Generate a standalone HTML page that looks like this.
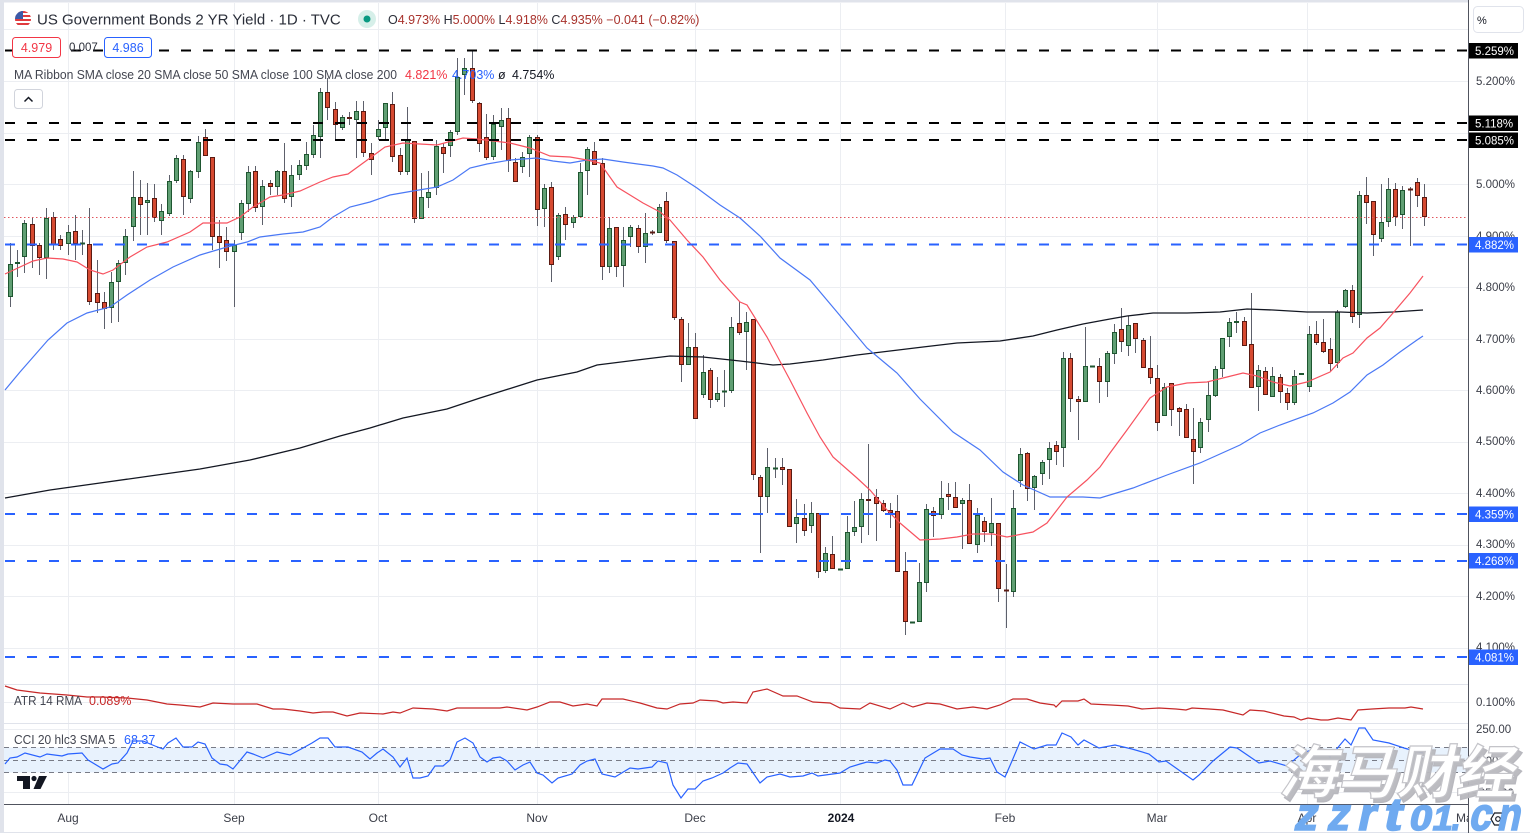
<!DOCTYPE html>
<html><head><meta charset="utf-8"><style>
html,body{margin:0;padding:0;width:1530px;height:833px;overflow:hidden;background:#fff}
svg{display:block}
text{font-family:"Liberation Sans","Noto Sans CJK SC",sans-serif}
</style></head><body>
<svg id="s" width="1530" height="833" viewBox="0 0 1530 833" xmlns="http://www.w3.org/2000/svg">
<rect width="1530" height="833" fill="#fff"/>
<!-- frame -->
<rect x="0" y="0" width="4" height="833" fill="#e0e3eb"/>
<rect x="0" y="0" width="1530" height="2.5" fill="#e0e3eb"/>
<rect x="0" y="832" width="1530" height="1" fill="#e0e3eb"/>
<!-- grid -->
<g stroke="#eceef2" stroke-width="1">
<line x1="4" x2="1468" y1="29.5" y2="29.5"/><line x1="4" x2="1468" y1="81.5" y2="81.5"/>
<line x1="4" x2="1468" y1="133.5" y2="133.5"/><line x1="4" x2="1468" y1="184.5" y2="184.5"/>
<line x1="4" x2="1468" y1="236.5" y2="236.5"/><line x1="4" x2="1468" y1="287.5" y2="287.5"/>
<line x1="4" x2="1468" y1="339.5" y2="339.5"/><line x1="4" x2="1468" y1="390.5" y2="390.5"/>
<line x1="4" x2="1468" y1="442.5" y2="442.5"/><line x1="4" x2="1468" y1="493.5" y2="493.5"/>
<line x1="4" x2="1468" y1="545.5" y2="545.5"/><line x1="4" x2="1468" y1="596.5" y2="596.5"/>
<line x1="4" x2="1468" y1="648.5" y2="648.5"/>
<line x1="4" x2="1468" y1="702.5" y2="702.5"/>
<line x1="4" x2="1468" y1="729.5" y2="729.5"/><line x1="4" x2="1468" y1="792.5" y2="792.5"/>
<line x1="68.5" x2="68.5" y1="3" y2="804"/><line x1="234.5" x2="234.5" y1="3" y2="804"/>
<line x1="378.5" x2="378.5" y1="3" y2="804"/><line x1="537.5" x2="537.5" y1="3" y2="804"/>
<line x1="695.5" x2="695.5" y1="3" y2="804"/><line x1="840.5" x2="840.5" y1="3" y2="804"/>
<line x1="1005.5" x2="1005.5" y1="3" y2="804"/><line x1="1157.5" x2="1157.5" y1="3" y2="804"/>
<line x1="1307.5" x2="1307.5" y1="3" y2="804"/>
</g>
<!-- pane separators -->
<g stroke="#e0e3eb" stroke-width="1">
<line x1="4" x2="1530" y1="684.5" y2="684.5"/>
<line x1="4" x2="1530" y1="723.5" y2="723.5"/>
</g>
<!-- CCI band -->
<rect x="4" y="747.5" width="1464" height="25" fill="#e8f2fd"/>
<g stroke="#787b86" stroke-width="1" stroke-dasharray="5 4">
<line x1="4" x2="1468" y1="747.5" y2="747.5"/>
<line x1="4" x2="1468" y1="760.5" y2="760.5"/>
<line x1="4" x2="1468" y1="772.5" y2="772.5"/>
</g>
<!-- candles -->
<g id="cd"></g>
<!-- SMAs -->
<polyline fill="none" stroke="#131722" stroke-width="1.3" points="5,498 50,490 100,483 150,476 200,469 250,460 300,448 340,436 370,428 403,418 447,409 480,398 537,380 577,372 597,365 637,360 670,356 703,357 740,361 757,363 773,365 790,364 823,360 857,355 890,351 923,347 957,343 1000,341 1033,336 1057,330 1083,324 1110,319 1127,316 1153,313 1187,313 1220,312 1247,309 1273,310 1307,312 1340,312 1367,313 1393,312 1423,310"/>
<polyline fill="none" stroke="#4a78f5" stroke-width="1.2" points="5,390 20,372 48,340 67,323 87,313 110,307 127,295 150,280 173,267 200,255 227,247 247,242 260,237 283,234 303,232 320,227 333,217 350,207 370,202 390,195 413,191 437,187 453,180 470,168 487,164 510,160 537,158 553,161 570,163 587,160 603,159 623,162 653,166 663,168 677,175 697,188 720,205 740,218 760,236 780,258 810,280 837,312 867,348 897,373 920,399 953,432 980,450 1003,472 1023,485 1050,497 1083,497 1100,498 1133,488 1167,475 1200,463 1240,445 1260,433 1280,425 1313,413 1333,403 1350,392 1367,375 1383,365 1400,352 1417,340 1423,336"/>
<polyline fill="none" stroke="#f7525f" stroke-width="1.2" points="5,274 33,261 47,258 63,259 77,262 90,270 103,274 113,270 130,257 147,247 167,242 190,232 203,223 227,223 240,217 253,207 270,197 283,195 300,191 320,182 333,177 348,174 370,158 385,147 403,143 437,145 463,138 477,139 510,143 530,148 550,156 570,157 587,160 600,163 617,187 630,195 643,203 660,212 670,220 687,240 703,257 720,280 740,302 747,305 767,337 790,380 807,413 820,437 833,457 857,478 870,490 887,510 900,523 920,540 940,539 957,537 973,534 993,534 1007,537 1033,532 1047,523 1067,497 1087,480 1100,467 1110,453 1127,430 1150,398 1167,387 1187,383 1207,382 1227,377 1243,373 1257,376 1273,382 1290,386 1307,382 1330,372 1343,358 1353,353 1367,338 1380,328 1393,313 1410,293 1423,276"/>
<!-- ATR -->
<polyline fill="none" stroke="#c62828" stroke-width="1.2" points="5,686 17,690 40,693 67,695 87,697 100,697 127,698 147,700 167,704 180,705 200,707 213,703 233,704 257,704 273,709 283,709 300,711 313,713 323,712 333,712 347,716 360,713 383,714 393,712 400,713 413,708 433,709 447,711 457,708 480,708 500,708 507,707 527,710 537,707 550,702 560,702 573,706 587,704 597,706 602,699 623,699 640,703 657,708 667,709 680,704 693,703 700,700 717,701 723,703 733,702 747,703 753,692 767,689 783,696 797,696 813,702 830,703 840,708 860,709 870,703 890,709 903,703 913,707 927,703 940,704 957,709 973,707 987,709 1000,705 1013,699 1027,699 1040,703 1054,705 1056,707 1062,701 1078,701 1084,699 1091,704 1111,705 1128,706 1142,709 1159,708 1176,709 1186,710 1192,708 1209,709 1223,710 1243,715 1250,710 1264,711 1284,716 1294,717 1301,720 1308,718 1321,720 1328,720 1338,718 1351,720 1358,710 1372,709 1389,708 1405,708 1411,707 1423,709"/>
<!-- CCI -->
<polyline fill="none" stroke="#2962ff" stroke-width="1.2" points="5,764 10,758 17,757 25,753 40,757 47,754 62,756 68,754 82,753 88,760 103,769 112,764 118,763 127,753 133,741 143,741 155,746 163,749 168,743 176,738 183,747 192,747 198,742 205,744 212,758 220,764 227,765 233,769 247,752 253,754 263,758 277,752 290,755 303,748 312,743 320,738 328,738 335,747 348,747 362,752 370,759 377,753 383,749 393,757 400,767 407,758 413,778 420,778 428,776 435,766 443,766 450,760 457,742 465,738 473,743 480,757 487,762 493,758 500,757 507,761 515,770 523,765 530,762 537,773 543,775 552,783 558,778 572,774 580,765 587,761 595,759 602,774 615,777 630,768 638,769 652,767 658,761 667,763 673,785 681,798 688,789 695,789 703,781 712,778 723,773 730,768 738,763 747,764 760,783 767,777 780,774 790,777 803,776 812,773 818,776 840,773 850,767 860,764 867,762 877,763 885,760 890,761 897,770 903,785 912,785 925,758 940,749 953,749 962,755 970,757 983,759 990,758 997,772 1005,777 1012,761 1020,742 1034,749 1047,745 1056,745 1062,733 1071,737 1078,745 1084,740 1099,748 1115,745 1132,749 1149,754 1159,762 1166,761 1193,780 1199,775 1213,761 1230,747 1237,748 1259,763 1270,761 1287,766 1301,754 1316,748 1330,757 1345,739 1351,745 1359,728 1365,728 1373,740 1389,743 1404,748 1411,750 1423,753"/>
<!-- dashed horizontal drawings -->
<g stroke-width="2" stroke-dasharray="10 12">
<line x1="5" x2="1468" y1="50.5" y2="50.5" stroke="#000"/>
<line x1="5" x2="1468" y1="123" y2="123" stroke="#000"/>
<line x1="5" x2="1468" y1="140" y2="140" stroke="#000"/>
<line x1="5" x2="1468" y1="244.5" y2="244.5" stroke="#2962ff"/>
<line x1="5" x2="1468" y1="514" y2="514" stroke="#2962ff"/>
<line x1="5" x2="1468" y1="561" y2="561" stroke="#2962ff"/>
<line x1="5" x2="1468" y1="657" y2="657" stroke="#2962ff"/>
</g>
<!-- price line -->
<line x1="4" x2="1468" y1="217.5" y2="217.5" stroke="#e0555d" stroke-width="1" stroke-dasharray="1.5 2.5"/>

<!-- right axis -->
<rect x="1469" y="0" width="61" height="832" fill="#fff"/>
<line x1="1468.5" x2="1468.5" y1="0" y2="833" stroke="#50535e" stroke-width="1"/>
<line x1="4" x2="1468" y1="804.5" y2="804.5" stroke="#50535e" stroke-width="1"/>
<rect x="1473.5" y="6.5" width="50" height="26" rx="4" fill="#fff" stroke="#e0e3eb"/>
<text x="1477" y="24" font-size="11" fill="#131722">%</text>
<g font-size="11.5" fill="#3b3e48">
<text x="1476" y="85">5.200%</text>
<text x="1476" y="188">5.000%</text>
<text x="1476" y="240">4.900%</text>
<text x="1476" y="291">4.800%</text>
<text x="1476" y="343">4.700%</text>
<text x="1476" y="394">4.600%</text>
<text x="1476" y="445">4.500%</text>
<text x="1476" y="497">4.400%</text>
<text x="1476" y="548">4.300%</text>
<text x="1476" y="600">4.200%</text>
<text x="1476" y="651">4.100%</text>
<text x="1476" y="706">0.100%</text>
<text x="1476" y="733">250.00</text>
<text x="1476" y="765">0.00</text>
<text x="1472" y="797">−250.00</text>
</g>
<g font-size="11.5" fill="#fff">
<rect x="1469" y="43" width="49" height="15.5" fill="#000"/><text x="1475" y="55">5.259%</text>
<rect x="1469" y="115.5" width="49" height="15.5" fill="#000"/><text x="1475" y="127.5">5.118%</text>
<rect x="1469" y="132.5" width="49" height="15.5" fill="#000"/><text x="1475" y="144.5">5.085%</text>
<rect x="1469" y="237" width="49" height="15.5" fill="#2962ff"/><text x="1475" y="249">4.882%</text>
<rect x="1469" y="506.5" width="49" height="15.5" fill="#2962ff"/><text x="1475" y="518.5">4.359%</text>
<rect x="1469" y="553" width="49" height="15.5" fill="#2962ff"/><text x="1475" y="565">4.268%</text>
<rect x="1469" y="649.5" width="49" height="15.5" fill="#2962ff"/><text x="1475" y="661.5">4.081%</text>
</g>

<!-- x axis labels -->
<g font-size="12" fill="#3b3e48" text-anchor="middle">
<text x="68" y="822">Aug</text>
<text x="234" y="822">Sep</text>
<text x="378" y="822">Oct</text>
<text x="537" y="822">Nov</text>
<text x="695" y="822">Dec</text>
<text x="841" y="822" font-weight="bold" fill="#131722">2024</text>
<text x="1005" y="822">Feb</text>
<text x="1157" y="822">Mar</text>
<text x="1307" y="822">Apr</text>
</g>
<svg x="1440" y="806" width="28" height="24"><text x="16" y="16" font-size="12" fill="#3b3e48">Ma</text></svg>
<!-- gear -->
<polygon points="1505,819 1501.5,825 1494.5,825 1491,819 1494.5,813 1501.5,813" fill="#fff" stroke="#131722" stroke-width="1.2"/>
<circle cx="1498" cy="819" r="2.3" fill="none" stroke="#131722" stroke-width="1.2"/>

<!-- TradingView logo -->
<g fill="#131722">
<rect x="17" y="776" width="13" height="5"/>
<rect x="23" y="776" width="7" height="13"/>
<circle cx="34" cy="778.5" r="2.6"/>
<polygon points="39,776 47,776 40.5,789 33.5,789"/>
</g>

<!-- header -->
<defs><clipPath id="fc"><circle cx="23" cy="19" r="8"/></clipPath></defs>
<g clip-path="url(#fc)">
<rect x="15" y="11" width="16" height="16" fill="#fff"/>
<rect x="15" y="11" width="16" height="2" fill="#e03a3e"/>
<rect x="15" y="15" width="16" height="2" fill="#e03a3e"/>
<rect x="15" y="19" width="16" height="2" fill="#e03a3e"/>
<rect x="15" y="23" width="16" height="2" fill="#e03a3e"/>
<rect x="15" y="11" width="8" height="8" fill="#3c5aa8"/>
</g>
<text x="37" y="24.5" font-size="15" fill="#2a2e39">US Government Bonds 2 YR Yield · 1D · TVC</text>
<circle cx="367" cy="19" r="9" fill="#d6efe9"/>
<circle cx="367" cy="19" r="3.5" fill="#089981"/>
<text x="388" y="24" font-size="12.5" fill="#2a2e39">O<tspan fill="#a8322c">4.973%</tspan> H<tspan fill="#a8322c">5.000%</tspan> L<tspan fill="#a8322c">4.918%</tspan> C<tspan fill="#a8322c">4.935%</tspan> <tspan fill="#a8322c">−0.041 (−0.82%)</tspan></text>

<rect x="12.5" y="37.5" width="48" height="20" rx="3" fill="#fff" stroke="#f23645"/>
<text x="36.5" y="52" font-size="12.5" fill="#f23645" text-anchor="middle">4.979</text>
<text x="69" y="51" font-size="11.5" fill="#2a2e39">0.007</text>
<rect x="104.5" y="37.5" width="47" height="20" rx="3" fill="#fff" stroke="#2962ff"/>
<text x="128" y="52" font-size="12.5" fill="#2962ff" text-anchor="middle">4.986</text>

<text x="14" y="79" font-size="12.5" fill="#434651" textLength="383" lengthAdjust="spacingAndGlyphs">MA Ribbon SMA close 20 SMA close 50 SMA close 100 SMA close 200</text>
<text x="405" y="79" font-size="12.5" fill="#f23645">4.821%</text>
<text x="452" y="79" font-size="12.5" fill="#2962ff">4.703%</text>
<text x="498" y="79" font-size="12.5" fill="#131722">ø</text>
<text x="512" y="79" font-size="12.5" fill="#131722">4.754%</text>

<rect x="14.5" y="89.5" width="28" height="19" rx="3" fill="#fff" stroke="#d1d4dc"/>
<polyline points="24.5,101.5 28.5,97.5 32.5,101.5" fill="none" stroke="#131722" stroke-width="1.5"/>

<text x="14" y="705" font-size="12.5" fill="#434651" textLength="68" lengthAdjust="spacingAndGlyphs">ATR 14 RMA</text>
<text x="89" y="705" font-size="12.5" fill="#c62828">0.089%</text>
<text x="14" y="744" font-size="12.5" fill="#434651" textLength="101" lengthAdjust="spacingAndGlyphs">CCI 20 hlc3 SMA 5</text>
<text x="124" y="744" font-size="12.5" fill="#2962ff">68.37</text>

<!-- watermark -->
<g transform="translate(1278,793) skewX(-12)" font-family="'Noto Sans CJK SC','WenQuanYi Zen Hei',sans-serif" font-weight="bold" font-size="58">
<text x="4" y="4" fill="#b8b8be" fill-opacity="0.95" stroke="#b8b8be" stroke-width="1.5" textLength="236" lengthAdjust="spacingAndGlyphs">海马财经</text>
<text x="0" y="0" fill="#ffffff" stroke="#c4c4c9" stroke-width="1.2" textLength="236" lengthAdjust="spacingAndGlyphs">海马财经</text>
</g>
<g transform="translate(0,830) skewX(-12)" font-weight="bold" fill="#6faaf0" stroke="#6faaf0" stroke-width="1.6">
<text x="1293" y="0" font-size="46" textLength="23" lengthAdjust="spacingAndGlyphs">z</text>
<text x="1326" y="0" font-size="46" textLength="22" lengthAdjust="spacingAndGlyphs">z</text>
<text x="1356" y="0" font-size="46" textLength="18" lengthAdjust="spacingAndGlyphs">r</text>
<text x="1382" y="0" font-size="46" textLength="18" lengthAdjust="spacingAndGlyphs">t</text>
<text x="1408" y="0" font-size="35" textLength="22" lengthAdjust="spacingAndGlyphs">0</text>
<text x="1431" y="0" font-size="35" textLength="20" lengthAdjust="spacingAndGlyphs">1</text>
<text x="1450" y="0" font-size="35" textLength="9" lengthAdjust="spacingAndGlyphs">.</text>
<text x="1468" y="0" font-size="46" textLength="22" lengthAdjust="spacingAndGlyphs">c</text>
<text x="1496" y="0" font-size="46" textLength="23" lengthAdjust="spacingAndGlyphs">n</text>
</g>
</svg>
<script>
const D="g 264 297 243 307|g 262 264 250 277|g 223 257 220 273|r 224 246 218 268|r 245 258 243 275|g 218 258 208 279|r 217 245 212 250|r 239 246 235 250|g 232 244 225 255|r 231 244 215 260|g 243 244 230 255|r 244 302 208 305|r 293 303 260 313|r 302 309 292 329|g 282 308 272 323|g 263 282 260 322|g 236 263 229 275|g 197 227 171 241|r 197 205 180 235|g 200 203 183 235|r 198 218 184 222|g 211 221 204 235|g 181 214 175 216|g 158 181 155 183|r 159 197 155 215|g 171 199 170 203|g 142 172 136 178|r 137 156 129 156|r 157 237 157 250|r 236 243 220 268|r 240 252 227 261|g 245 252 240 307|g 203 233 200 240|g 172 204 166 212|r 171 208 166 212|g 186 207 180 225|r 183 187 180 195|g 171 187 170 195|r 171 199 143 203|g 175 197 165 207|g 165 175 160 180|g 154 166 142 170|g 135 155 125 158|g 92 137 88 158|r 92 108 78 120|r 109 125 102 141|g 117 128 115 130|r 117 119 112 125|g 111 120 101 158|r 111 153 101 157|"+
"r 153 160 143 175|g 129 137 120 140|g 103 128 103 140|r 104 157 92 162|r 155 172 148 175|g 140 172 107 175|r 141 219 141 223|g 197 219 173 219|g 192 198 171 208|g 146 188 140 195|r 147 154 143 173|g 132 146 130 157|g 77 132 58 135|g 68 75 58 95|r 68 101 50 103|r 103 144 102 152|r 137 158 114 160|g 124 157 115 160|g 120 127 108 150|r 118 161 108 172|r 162 182 158 182|g 157 167 152 173|g 137 154 135 177|r 137 210 135 226|g 188 209 184 227|r 187 265 182 282|g 215 257 213 260|r 214 225 207 240|g 217 223 215 228|g 172 217 163 217|g 149 171 147 195|r 151 165 142 165|r 163 267 158 280|g 228 267 217 273|r 227 267 227 277|g 240 266 227 287|g 227 237 225 247|r 228 247 225 253|g 233 247 213 263|r 232 233 230 235|g 207 233 204 233|r 201 241 192 243|r 241 318 241 320|r 319 365 317 382|g 347 365 323 365|r 347 419 333 419|g 372 395 355 398|r 370 400 368 408|g 393 400 377 402|g 391 392 370 407|g 327 391 317 393|r 323 333 302 335|"+
"g 322 332 312 370|r 319 475 319 480|r 477 497 475 553|g 467 497 448 513|g 468 469 458 478|r 467 470 458 485|r 469 527 469 527|g 517 524 499 543|r 518 531 504 536|g 513 526 502 533|r 513 572 513 578|g 553 571 547 573|r 554 569 536 569|g 569 570 569 570|g 532 569 516 569|g 527 532 501 536|g 499 527 493 543|r 499 501 444 535|r 497 504 489 541|r 503 511 500 512|r 510 513 503 528|r 511 572 495 572|r 571 622 552 635|g 622 623 622 623|g 582 622 563 622|g 509 583 504 592|r 511 516 507 537|g 498 515 481 519|r 494 497 483 510|r 497 508 482 508|g 500 504 498 549|r 500 544 484 544|g 515 545 508 553|r 521 532 517 542|g 523 533 498 546|r 523 589 523 602|r 590 591 564 628|g 508 592 490 597|g 454 481 448 487|r 453 489 452 501|g 476 488 475 510|g 462 474 460 485|g 448 460 442 479|r 445 452 441 465|g 358 448 352 467|r 358 399 353 412|r 399 402 396 440|g 366 402 327 402|g 366 367 366 367|r 366 382 358 403|g 353 382 351 397|"+
"g 332 354 324 364|r 329 342 308 352|g 325 346 316 356|r 323 339 323 353|r 340 368 338 368|r 368 378 336 384|r 378 423 365 431|g 387 416 383 416|r 383 410 383 426|r 408 412 407 436|r 409 438 404 438|r 439 452 408 484|g 422 448 418 453|g 395 420 381 432|g 369 396 366 397|g 338 369 338 377|g 322 337 318 347|g 321 323 312 333|r 321 346 317 346|r 344 388 293 388|g 370 387 365 411|r 371 395 367 395|g 376 397 367 397|r 377 392 374 403|r 393 403 388 410|g 376 403 370 405|g 373 375 373 375|g 334 387 326 392|r 334 343 321 345|r 342 352 319 353|r 349 364 338 371|g 312 363 310 368|g 290 307 289 308|r 290 317 285 323|g 195 315 191 328|r 195 203 177 224|r 201 235 201 256|g 222 239 184 242|g 189 222 178 227|r 189 217 183 226|g 190 215 186 229|r 189 190 187 246|r 182 196 178 207|r 197 217 184 226";
(function(){
  var h='';
  D.split('|').forEach(function(r,i){
    var p=r.trim().split(/\s+/);
    var t=p[0],top=+p[1],bot=+p[2],hi=+p[3],lo=+p[4];
    var cx=Math.round(10+7.214*i);
    var fill=t==='g'?'#609f73':'#d64a31', st=t==='g'?'#1e5630':'#5a1a12';
    if(lo>hi) h+='<line x1="'+(cx+0.5)+'" x2="'+(cx+0.5)+'" y1="'+hi+'" y2="'+lo+'" stroke="#5d606b" stroke-width="1"/>';
    if(bot-top<2){
      h+='<rect x="'+(cx-2)+'" y="'+(top-0.5)+'" width="5" height="2" fill="'+st+'"/>';
    } else {
      h+='<rect x="'+(cx-1.5)+'" y="'+(top+0.5)+'" width="4" height="'+(bot-top-1)+'" fill="'+fill+'" stroke="'+st+'" stroke-width="1"/>';
    }
  });
  document.getElementById('cd').innerHTML=h;
})();
</script>
</body></html>
